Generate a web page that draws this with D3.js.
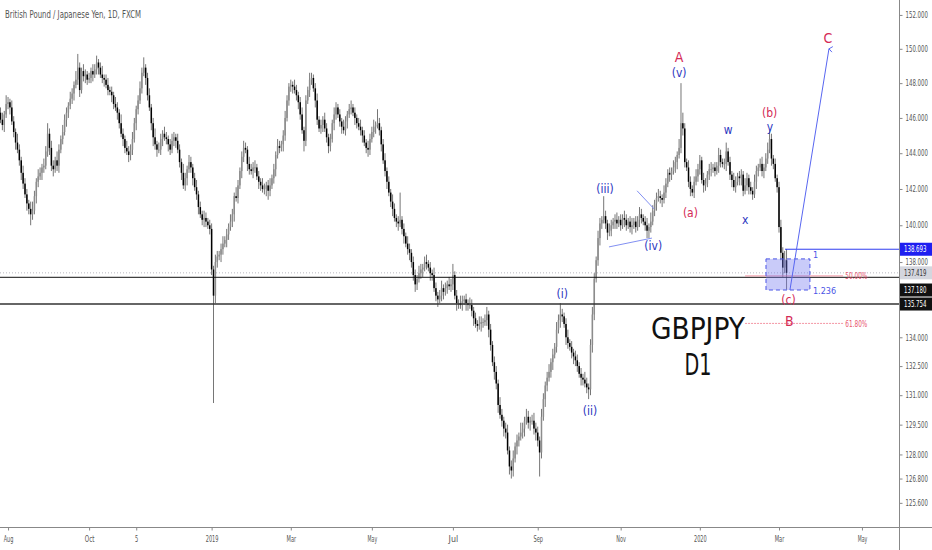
<!DOCTYPE html>
<html>
<head>
<meta charset="utf-8">
<script src="https://cdn.jsdelivr.net/npm/d3@7"></script>
<style>
  body { margin: 0; background: #fff; }
  svg { display: block; }
  text { font-family: "Liberation Sans Narrow", "DejaVu Sans Condensed", "Liberation Sans", sans-serif; }
</style>
</head>
<body>
<svg width="932" height="550"></svg>
<script>
const FIRST_DAY = "2018-07-26";
const FIRST_OPEN = 146.3;

// daily closes, one row per month
const closes = [
  145.9, 145.6, 146.2, 146.8,
  146.9, 146.6, 145.8, 145.2, 144.6, 144.2, 143.6, 142.9, 142.3, 141.7, 141.2, 140.9, 140.6, 140.8, 141.6, 142.4, 142.7, 142.9, 143.2, 143.3, 144.1, 145.1, 144.3,
  143.3, 143.1, 143.6, 143.3, 144.2, 144.8, 145.2, 145.9, 146.3, 146.7, 147.1, 147.4, 147.9, 148.2, 148.9, 147.6, 148.7, 148.4, 148.5, 148.2,
  148.3, 148.7, 148.5, 148.8, 149.2, 148.9, 148.5, 148.3, 148.2, 147.9, 147.6, 147.5, 147.3, 146.8, 146.6, 146.3, 145.7, 145.1, 144.8, 144.3, 144.1, 143.9, 144.2,
  144.8, 145.7, 146.5, 147.0, 147.7, 148.6, 148.9, 148.3, 147.3, 146.6, 145.7, 144.9, 144.5, 144.2, 144.2, 144.8, 145.1, 144.9, 144.8, 144.5, 144.2, 144.7,
  144.9, 144.7, 144.2, 143.5, 142.9, 142.2, 142.6, 143.1, 143.5, 143.2, 142.6, 142.1, 141.7, 141.0, 140.6, 140.3, 140.4, 140.2, 140.0, 139.8,
  137.6, 136.2, 138.0, 138.3, 138.4, 138.7, 139.0, 139.2, 139.5, 139.9, 140.2, 140.6, 141.6, 141.5, 142.2, 143.0, 143.8, 144.3, 144.2, 143.4, 143.1, 143.0,
  143.2, 143.2, 142.7, 142.4, 142.2, 142.0, 142.0, 142.2, 141.9, 142.2, 142.6, 143.1, 143.9, 144.4, 144.3, 144.5, 145.0, 146.0, 147.0, 147.8,
  147.9, 147.8, 147.6, 147.3, 146.9, 146.2, 145.3, 144.7, 147.0, 147.6, 148.2, 148.3, 147.7, 147.0, 145.9, 145.4, 145.6, 145.9, 145.4, 144.9, 144.4,
  144.8, 145.7, 146.2, 146.6, 146.2, 145.8, 145.5, 145.3, 145.8, 146.2, 146.5, 146.6, 146.3, 146.0, 145.7, 145.5, 145.3, 145.0, 144.6, 144.3, 144.2, 144.8,
  145.2, 145.5, 145.6, 145.7, 145.3, 144.5, 143.6, 143.0, 142.4, 141.8, 141.3, 140.9, 140.4, 140.2, 140.1, 140.3, 139.8, 139.4, 139.0, 138.7, 138.5, 138.0, 137.3,
  136.8, 137.1, 137.4, 137.6, 137.7, 138.0, 137.9, 137.7, 137.4, 137.3, 136.6, 136.2, 136.0, 136.2, 136.6, 136.4, 136.6, 136.8, 136.7, 136.8,
  137.3, 136.2, 135.8, 135.8, 135.7, 135.9, 136.0, 135.8, 135.7, 135.7, 135.4, 135.0, 134.7, 134.6, 134.7, 134.8, 134.8, 134.9, 135.2, 134.4, 133.6, 132.7, 132.2,
  131.6, 130.5, 130.0, 129.7, 129.3, 129.1, 128.2, 127.4, 127.2, 127.8, 128.4, 128.7, 128.9, 129.1, 129.3, 129.7, 129.9, 129.6, 129.7, 129.7, 129.3, 129.1,
  128.7, 128.1, 129.9, 130.8, 131.5, 131.9, 132.2, 132.7, 133.1, 133.5, 134.4, 134.9, 135.2, 135.1, 134.7, 134.0, 133.7, 133.5, 133.2, 133.0, 132.8,
  132.5, 132.1, 131.9, 131.8, 131.6, 131.4, 131.3, 133.6, 135.2, 137.1, 138.1, 139.3, 140.1, 140.3, 140.5, 140.1, 139.6, 139.7, 140.0, 140.2, 140.3, 140.1, 140.3,
  140.0, 140.4, 140.3, 140.0, 140.2, 139.9, 140.0, 140.2, 139.9, 140.3, 140.6, 140.4, 140.2, 140.0, 139.7, 139.9, 140.2, 140.8, 141.2, 141.5, 141.6,
  141.5, 141.4, 141.8, 142.3, 142.9, 142.8, 143.0, 143.2, 143.5, 143.9, 144.3, 145.7, 145.4, 143.5, 143.2, 142.4, 142.0, 141.8, 142.4, 142.7, 143.1,
  143.6, 142.5, 142.2, 142.3, 142.8, 143.1, 143.1, 143.2, 143.0, 143.3, 143.9, 143.5, 143.4, 143.4, 144.1, 143.5, 142.8, 142.5, 142.1, 142.4, 142.7, 142.6,
  142.8, 141.9, 142.2, 142.6, 142.1, 141.9, 141.7, 142.4, 143.0, 143.2, 143.4, 143.0, 143.2, 143.7, 144.2, 144.8, 143.7, 143.4, 142.6, 142.1,
  139.9, 138.5, 137.7, 138.1, 137.42
];

// how far each high sits above the body
const upperWicks = [
  0.3, 0.4, 0.2, 0.5,
  0.3, 0.2, 0.4, 0.3, 0.2, 0.5, 0.3, 0.2, 0.4, 0.3, 0.3, 0.2, 0.4, 0.5, 0.3, 0.2, 0.4, 0.3, 0.2, 0.4, 0.3, 0.6, 0.3,
  0.4, 0.3, 0.2, 0.5, 0.3, 0.2, 0.4, 0.3, 0.3, 0.2, 0.4, 0.3, 0.2, 0.5, 0.8, 0.3, 0.2, 0.4, 0.3, 0.2,
  0.3, 0.2, 0.4, 0.3, 0.4, 0.2, 0.3, 0.5, 0.2, 0.3, 0.4, 0.2, 0.3, 0.2, 0.4, 0.3, 0.2, 0.5, 0.3, 0.2, 0.4, 0.3, 0.3,
  0.4, 0.3, 0.2, 0.3, 0.4, 0.3, 0.6, 0.2, 0.3, 0.4, 0.2, 0.3, 0.5, 0.2, 0.4, 0.3, 0.2, 0.4, 0.3, 0.2, 0.3, 0.4,
  0.3, 0.2, 0.4, 0.3, 0.2, 0.5, 0.3, 0.2, 0.4, 0.3, 0.2, 0.3, 0.4, 0.2, 0.3, 0.2, 0.4, 0.3, 0.2, 0.3,
  0.3, 0.2, 0.4, 0.3, 0.2, 0.3, 0.4, 0.2, 0.3, 0.2, 0.4, 0.3, 0.2, 0.5, 0.3, 0.2, 0.3, 0.4, 0.3, 0.2, 0.4, 0.3,
  0.3, 0.4, 0.2, 0.3, 0.2, 0.4, 0.3, 0.2, 0.3, 0.4, 0.2, 0.3, 0.2, 0.4, 0.3, 0.2, 0.3, 0.4, 0.3, 0.2,
  0.3, 0.2, 0.4, 0.3, 0.2, 0.3, 0.4, 0.2, 0.3, 0.2, 0.4, 0.3, 0.2, 0.3, 0.4, 0.2, 0.3, 0.2, 0.4, 0.3, 0.2,
  0.3, 0.2, 0.4, 0.3, 0.2, 0.3, 0.2, 0.4, 0.3, 0.2, 0.3, 0.4, 0.2, 0.3, 0.2, 0.3, 0.4, 0.2, 0.3, 0.2, 0.4, 0.3,
  0.3, 0.4, 0.2, 0.8, 0.3, 0.2, 0.3, 0.4, 0.2, 0.3, 0.2, 0.4, 0.3, 0.2, 0.3, 1.5, 0.2, 0.3, 0.2, 0.4, 0.3, 0.2, 0.3,
  0.3, 0.2, 0.4, 0.3, 0.2, 0.3, 0.4, 0.2, 0.3, 0.2, 0.4, 0.3, 0.2, 0.3, 0.4, 0.2, 0.3, 0.2, 0.4, 0.3,
  0.6, 0.2, 0.3, 0.2, 0.4, 0.3, 0.2, 0.3, 0.2, 0.4, 0.3, 0.2, 0.3, 0.2, 0.4, 0.3, 0.2, 0.3, 0.4, 0.2, 0.3, 0.2, 0.3,
  0.3, 0.2, 0.4, 0.3, 0.2, 0.3, 0.4, 0.2, 0.3, 0.4, 0.2, 0.3, 0.2, 0.5, 0.3, 0.2, 0.4, 0.3, 0.2, 0.3, 0.4, 0.3,
  0.3, 0.2, 0.4, 0.3, 0.2, 0.3, 0.4, 0.2, 0.3, 0.2, 0.4, 0.3, 0.6, 0.3, 0.2, 0.3, 0.4, 0.2, 0.3, 0.2, 0.3,
  0.3, 0.2, 0.3, 0.2, 0.4, 0.3, 0.2, 0.3, 0.4, 0.3, 0.2, 0.4, 0.3, 0.2, 1.1, 0.3, 0.2, 0.4, 0.3, 0.2, 0.3, 0.4, 0.2,
  0.3, 0.2, 0.4, 0.3, 0.2, 0.3, 0.4, 0.2, 0.3, 0.2, 0.4, 0.3, 0.2, 0.3, 0.4, 0.2, 0.5, 0.3, 0.2, 0.3, 0.4,
  0.3, 0.2, 0.4, 0.3, 0.2, 0.3, 0.2, 0.4, 0.3, 0.2, 0.5, 2.3, 0.6, 0.3, 0.2, 0.4, 0.3, 0.2, 0.3, 0.4, 0.3,
  0.3, 0.2, 0.4, 0.3, 0.2, 0.3, 0.4, 0.2, 0.3, 0.2, 0.4, 0.3, 0.2, 0.3, 0.5, 0.2, 0.3, 0.2, 0.4, 0.3, 0.2, 0.3,
  0.3, 0.2, 0.4, 0.3, 0.2, 0.3, 0.2, 0.4, 0.3, 0.2, 0.3, 0.4, 0.2, 0.3, 0.4, 0.5, 0.3, 0.2, 0.3, 0.2,
  0.3, 0.4, 0.3, 0.5, 0.6
];

// how far each low sits below the body
const lowerWicks = [
  0.2, 0.3, 0.4, 0.2,
  0.3, 0.4, 0.2, 0.3, 0.4, 0.2, 0.3, 0.4, 0.3, 0.2, 0.4, 0.3, 0.6, 0.3, 0.2, 0.4, 0.3, 0.2, 0.4, 0.3, 0.2, 0.3, 0.4,
  0.3, 0.4, 0.2, 0.3, 0.4, 0.2, 0.3, 0.2, 0.4, 0.3, 0.2, 0.3, 0.4, 0.2, 0.3, 0.4, 0.2, 0.3, 0.4, 0.3,
  0.2, 0.3, 0.4, 0.2, 0.3, 0.4, 0.2, 0.3, 0.4, 0.2, 0.3, 0.2, 0.4, 0.3, 0.2, 0.4, 0.3, 0.2, 0.4, 0.3, 0.2, 0.4, 0.3,
  0.3, 0.2, 0.4, 0.3, 0.2, 0.3, 0.2, 0.4, 0.3, 0.2, 0.4, 0.5, 0.3, 0.4, 0.2, 0.3, 0.4, 0.2, 0.3, 0.4, 0.3, 0.2,
  0.3, 0.4, 0.2, 0.3, 0.4, 0.2, 0.3, 0.4, 0.2, 0.3, 0.4, 0.2, 0.3, 0.4, 0.2, 0.3, 0.4, 0.3, 0.2, 0.3,
  0.3, 5.6, 0.4, 0.3, 0.2, 0.4, 0.3, 0.2, 0.4, 0.3, 0.2, 0.3, 0.4, 0.2, 0.3, 0.2, 0.4, 0.3, 0.2, 0.4, 0.3, 0.2,
  0.4, 0.3, 0.2, 0.4, 0.3, 0.2, 0.3, 0.4, 0.5, 0.3, 0.2, 0.3, 0.4, 0.2, 0.3, 0.2, 0.4, 0.3, 0.2, 0.3,
  0.3, 0.4, 0.2, 0.3, 0.4, 0.3, 0.2, 0.6, 0.3, 0.2, 0.4, 0.3, 0.2, 0.4, 0.3, 0.2, 0.3, 0.4, 0.2, 0.3, 0.4,
  0.3, 0.2, 0.4, 0.3, 0.2, 0.3, 0.4, 0.2, 0.3, 0.4, 0.2, 0.3, 0.2, 0.4, 0.3, 0.2, 0.3, 0.4, 0.2, 0.3, 0.4, 0.3,
  0.2, 0.3, 0.4, 0.2, 0.3, 0.4, 0.2, 0.3, 0.4, 0.2, 0.3, 0.4, 0.2, 0.3, 0.4, 0.2, 0.3, 0.4, 0.2, 0.3, 0.4, 0.3, 0.3,
  0.4, 0.3, 0.2, 0.3, 0.4, 0.2, 0.3, 0.2, 0.4, 0.3, 0.2, 0.3, 0.4, 0.2, 0.3, 0.4, 0.2, 0.3, 0.2, 0.3,
  0.3, 0.2, 0.4, 0.3, 0.2, 0.3, 0.2, 0.4, 0.3, 0.2, 0.3, 0.4, 0.2, 0.3, 0.2, 0.4, 0.3, 0.2, 0.3, 0.4, 0.3, 0.2, 0.4,
  0.3, 0.4, 0.2, 0.3, 0.4, 0.3, 0.2, 0.4, 0.4, 0.3, 0.2, 0.4, 0.3, 0.2, 0.3, 0.4, 0.2, 0.3, 0.4, 0.2, 0.3, 0.4,
  0.3, 1.2, 0.3, 0.2, 0.4, 0.3, 0.2, 0.3, 0.4, 0.2, 0.3, 0.2, 0.4, 0.3, 0.2, 0.4, 0.3, 0.2, 0.3, 0.4, 0.3,
  0.3, 0.2, 0.4, 0.3, 0.2, 0.3, 0.5, 0.3, 0.4, 0.3, 0.2, 0.3, 0.4, 0.3, 0.2, 0.3, 0.4, 0.2, 0.3, 0.2, 0.4, 0.3, 0.2,
  0.3, 0.2, 0.4, 0.3, 0.2, 0.3, 0.4, 0.2, 0.3, 0.2, 0.4, 0.3, 0.2, 0.3, 0.4, 0.4, 0.3, 0.2, 0.3, 0.4, 0.2,
  0.3, 0.4, 0.2, 0.3, 0.2, 0.4, 0.3, 0.2, 0.3, 0.4, 0.2, 0.3, 0.4, 0.3, 0.2, 0.3, 0.4, 0.2, 0.3, 0.2, 0.3,
  0.3, 0.2, 0.4, 0.3, 0.2, 0.3, 0.4, 0.2, 0.3, 0.2, 0.4, 0.3, 0.2, 0.3, 0.4, 0.2, 0.3, 0.4, 0.2, 0.3, 0.2, 0.4,
  0.4, 0.3, 0.2, 0.3, 0.4, 0.2, 0.3, 0.2, 0.4, 0.3, 0.2, 0.3, 0.4, 0.2, 0.3, 0.2, 0.4, 0.3, 0.2, 0.3,
  0.3, 0.4, 0.5, 0.3, 0.9
];

const priceTicks = [152, 150, 148, 146, 144, 142, 140, 138, 134, 132.5, 131, 129.5, 128, 126.8, 125.6];
const timeTickDates = ["2018-08-01", "2018-10-01", "2018-11-05", "2019-01-02", "2019-03-01", "2019-05-01",
  "2019-07-01", "2019-09-02", "2019-11-01", "2020-01-02", "2020-03-02", "2020-05-01"];
const timeTickLabels = ["Aug", "Oct", "5", "2019", "Mar", "May", "Jul", "Sep", "Nov", "2020", "Mar", "May"];

// wave counts: [label, day index, price]
const redWaves = [["A", 360, 149.5], ["(a)", 366, 140.7], ["(b)", 408, 146.3], ["(c)", 418, 136.0], ["B", 418.5, 134.85], ["C", 439, 150.6]];
const blueWaves = [["(v)", 360, 148.6], ["(iii)", 320.7, 142.0], ["(iv)", 346.3, 138.9], ["(i)", 298, 136.3], ["(ii)", 312.7, 130.2],
  ["w", 386, 145.3], ["x", 395, 140.3], ["y", 408.2, 145.5]];

// horizontal levels and right-hand price tags
const blackLevels = [137.18, 135.754];
const lastPrice = 137.419;
const swingHigh = 138.693;
const fibHigh = 147.96, fibLow = 126.55;
const fibLevels = [0.5, 0.618];
const fibLabels = ["50.00%", "61.80%"];
const extTop = 138.17, extBottom = 136.5;
const extLabels = ["1", "1.236"];
// small trend lines around wave (iv): [day1, price1, day2, price2]
const trendLines = [[322.8, 138.82, 345.6, 139.3], [337.7, 141.9, 346.7, 140.9]];
const projection = [418.8, 136.5, 439.5, 150.0];

const svg = d3.select("svg");
const W = 932, H = 550, PLOT_R = 899, PLOT_B = 527;
const STEP = 1.885;
const CHAR_W = 3.2; // squeeze for the narrow axis font
const RED = "#d42a55", BLUE = "#2c36c0", LINE_BLUE = "#5866f0";

// trading days: weekdays without Christmas and New Year
const days = [];
for (let d = new Date(FIRST_DAY + "T00:00:00Z"); days.length < 480; d.setUTCDate(d.getUTCDate() + 1)) {
  const wd = d.getUTCDay(), md = d.toISOString().slice(5, 10);
  if (wd === 0 || wd === 6 || md === "12-25" || md === "01-01") continue;
  days.push(d.toISOString().slice(0, 10));
}

const candles = closes.map((c, i) => {
  const o = i === 0 ? FIRST_OPEN : closes[i - 1];
  return { i, o, c, h: Math.max(o, c) + upperWicks[i], l: Math.min(o, c) - lowerWicks[i] };
});

const x = d3.scaleLinear().domain([0, 100]).range([0.5, 0.5 + 100 * STEP]);
const y = d3.scaleLog().domain([124.42, 152.89]).range([PLOT_B, 0]);

svg.append("rect").attr("width", W).attr("height", H).attr("fill", "#fff");
svg.append("defs").append("clipPath").attr("id", "plot")
  .append("rect").attr("width", PLOT_R).attr("height", PLOT_B);
svg.select("defs").append("marker").attr("id", "head")
  .attr("viewBox", "0 0 10 10").attr("refX", 5).attr("refY", 1)
  .attr("markerWidth", 7).attr("markerHeight", 7).attr("orient", "auto-start-reverse")
  .append("path").attr("d", "M1,6 L5,1 L9,6").attr("fill", "none").attr("stroke", LINE_BLUE).attr("stroke-width", 1.3);

const plot = svg.append("g").attr("clip-path", "url(#plot)");

// current price dotted line
plot.append("line").attr("x1", 0).attr("x2", PLOT_R)
  .attr("y1", y(lastPrice)).attr("y2", y(lastPrice))
  .attr("stroke", "#b8b8c0").attr("stroke-dasharray", "1,2");

// candles
plot.append("g").selectAll("line").data(candles).join("line")
  .attr("x1", d => x(d.i)).attr("x2", d => x(d.i))
  .attr("y1", d => y(d.h)).attr("y2", d => y(d.l))
  .attr("stroke", "#666").attr("stroke-width", 0.9);
plot.append("g").selectAll("rect").data(candles).join("rect")
  .attr("x", d => x(d.i) - 0.75).attr("width", 1.5)
  .attr("y", d => y(Math.max(d.o, d.c)))
  .attr("height", d => Math.max(0.8, Math.abs(y(d.o) - y(d.c))))
  .attr("fill", d => d.c >= d.o ? "#8c8c8c" : "#000");

// black support lines
plot.selectAll("line.level").data(blackLevels).join("line").attr("class", "level")
  .attr("x1", 0).attr("x2", PLOT_R)
  .attr("y1", d => y(d)).attr("y2", d => y(d))
  .attr("stroke", (d, i) => i === 0 ? "#111" : "#333")
  .attr("stroke-width", (d, i) => i === 0 ? 1 : 1.4);

// swing high line
plot.append("line").attr("x1", x(416.2)).attr("x2", PLOT_R)
  .attr("y1", y(swingHigh)).attr("y2", y(swingHigh))
  .attr("stroke", "#2f3cf0").attr("stroke-width", 1);

// fib retracement levels
const fibPrice = fibLevels.map(l => fibHigh - l * (fibHigh - fibLow));
plot.selectAll("line.fib").data(fibPrice).join("line").attr("class", "fib")
  .attr("x1", x(395)).attr("x2", x(447))
  .attr("y1", d => y(d)).attr("y2", d => y(d))
  .attr("stroke", "#f07a8c").attr("stroke-width", 0.8)
  .attr("stroke-dasharray", (d, i) => i === 0 ? null : "2,1");
plot.selectAll("text.fib").data(fibPrice).join("text").attr("class", "fib")
  .attr("x", x(448.2)).attr("y", d => y(d)).attr("dy", "0.35em")
  .attr("font-size", 9).attr("fill", "#e8556e")
  .attr("textLength", 22).attr("lengthAdjust", "spacingAndGlyphs")
  .text((d, i) => fibLabels[i]);

// fib extension box
plot.append("rect")
  .attr("x", x(406.1)).attr("width", x(429.4) - x(406.1))
  .attr("y", y(extTop)).attr("height", y(extBottom) - y(extTop))
  .attr("fill", "rgba(112,118,240,0.38)")
  .attr("stroke", "#4a55e6").attr("stroke-width", 1).attr("stroke-dasharray", "4,3");
plot.selectAll("text.ext").data([extTop, extBottom]).join("text").attr("class", "ext")
  .attr("x", x(431)).attr("y", d => y(d)).attr("dy", (d, i) => i === 0 ? "-0.1em" : "0.4em")
  .attr("font-size", 9).attr("fill", "#4a55e6")
  .text((d, i) => extLabels[i]);

// trend lines and projection arrow
plot.selectAll("line.trend").data(trendLines).join("line").attr("class", "trend")
  .attr("x1", d => x(d[0])).attr("y1", d => y(d[1]))
  .attr("x2", d => x(d[2])).attr("y2", d => y(d[3]))
  .attr("stroke", "#8290f2").attr("stroke-width", 1);
plot.append("line")
  .attr("x1", x(projection[0])).attr("y1", y(projection[1]))
  .attr("x2", x(projection[2])).attr("y2", y(projection[3]))
  .attr("stroke", LINE_BLUE).attr("stroke-width", 1)
  .attr("marker-end", "url(#head)");

// wave labels
function waves(list, colour) {
  plot.append("g").selectAll("text").data(list).join("text")
    .attr("x", d => x(d[1])).attr("y", d => y(d[2]))
    .attr("dy", "0.35em").attr("text-anchor", "middle")
    .attr("font-size", d => /^[ABC]$/.test(d[0]) ? 14 : 12)
    .attr("fill", colour)
    .text(d => d[0]);
}
waves(redWaves, RED);
waves(blueWaves, BLUE);

// big symbol text
plot.append("text").attr("x", x(370)).attr("y", y(133.9))
  .attr("text-anchor", "middle").attr("font-size", 31).attr("fill", "#111")
  .attr("textLength", 94).attr("lengthAdjust", "spacingAndGlyphs").text("GBPJPY");
plot.append("text").attr("x", x(370)).attr("y", y(132.05))
  .attr("text-anchor", "middle").attr("font-size", 31).attr("fill", "#111")
  .attr("textLength", 27).attr("lengthAdjust", "spacingAndGlyphs").text("D1");

// title
svg.append("text").attr("x", 5).attr("y", 18)
  .attr("font-size", 11).attr("fill", "#555")
  .attr("textLength", 136).attr("lengthAdjust", "spacingAndGlyphs")
  .text("British Pound / Japanese Yen, 1D, FXCM");

// axes
const squeeze = sel => sel.attr("textLength", function () { return this.textContent.length * CHAR_W; })
  .attr("lengthAdjust", "spacingAndGlyphs");

const yAxis = d3.axisRight(y).tickValues(priceTicks).tickFormat(d3.format(".3f")).tickSize(3).tickPadding(3);
svg.append("g").attr("transform", `translate(${PLOT_R + 0.5},0)`).call(yAxis)
  .call(g => g.select(".domain").remove())
  .call(g => g.selectAll("line").attr("stroke", "#888"))
  .call(g => g.selectAll("text").attr("fill", "#555").attr("font-size", 8.5).call(squeeze));

const xTicks = timeTickDates.map(d => days.indexOf(d));
const xAxis = d3.axisBottom(x).tickValues(xTicks).tickFormat((d, i) => timeTickLabels[i]).tickSize(3).tickPadding(5);
svg.append("g").attr("transform", `translate(0,${PLOT_B + 0.5})`).call(xAxis)
  .call(g => g.select(".domain").remove())
  .call(g => g.selectAll("line").attr("stroke", "#888"))
  .call(g => g.selectAll("text").attr("fill", "#555").attr("font-size", 9).call(squeeze));

svg.append("line").attr("x1", 0).attr("x2", W).attr("y1", PLOT_B + 0.5).attr("y2", PLOT_B + 0.5).attr("stroke", "#888");
svg.append("line").attr("x1", PLOT_R + 0.5).attr("x2", PLOT_R + 0.5).attr("y1", 0).attr("y2", H).attr("stroke", "#888");

// price tags on the right axis
const tags = [
  { v: swingHigh, at: swingHigh, bg: "#1f1ff0", fg: "#fff" },
  { v: lastPrice, at: lastPrice, bg: "#d4d6de", fg: "#333" },
  { v: 137.18, at: 136.5, bg: "#111", fg: "#fff" },
  { v: 135.754, at: 135.754, bg: "#111", fg: "#fff" }
];
const tg = svg.append("g").selectAll("g").data(tags).join("g")
  .attr("transform", d => `translate(${PLOT_R + 1},${y(d.at)})`);
tg.append("rect").attr("x", 0).attr("y", -6.5).attr("width", W - PLOT_R).attr("height", 13).attr("fill", d => d.bg);
tg.append("text").attr("x", 4).attr("dy", "0.35em").attr("font-size", 8.5).attr("fill", d => d.fg)
  .text(d => d3.format(".3f")(d.v)).call(squeeze);
</script>
</body>
</html>
